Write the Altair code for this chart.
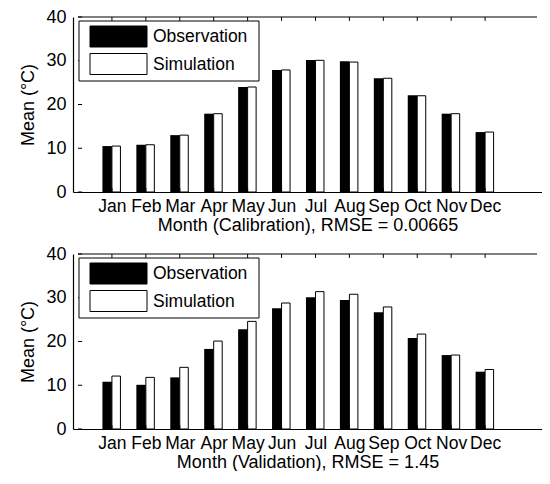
import json
import altair as alt
import pandas as pd

# ---------------- data ----------------
months = ['Jan', 'Feb', 'Mar', 'Apr', 'May', 'Jun', 'Jul', 'Aug', 'Sep', 'Oct', 'Nov', 'Dec']
month_num = list(range(1, 13))
cal_obs = [10.5, 10.8, 13.0, 17.9, 24.0, 27.9, 30.2, 29.9, 26.0, 22.1, 17.9, 13.7]
cal_sim = [10.5, 10.8, 13.0, 17.9, 24.0, 27.9, 30.1, 29.7, 26.0, 22.0, 17.9, 13.7]
val_obs = [10.8, 10.1, 11.8, 18.3, 22.8, 27.6, 30.1, 29.5, 26.7, 20.8, 16.9, 13.1]
val_sim = [12.1, 11.8, 14.1, 20.1, 24.6, 28.8, 31.4, 30.8, 27.9, 21.7, 16.9, 13.6]
series = ['Observation', 'Simulation']
series_fill = ['black', 'white']
y_ticks = [0, 10, 20, 30, 40]
x_titles = ['Month (Calibration), RMSE = 0.00665', 'Month (Validation), RMSE = 1.45']
y_title = 'Mean (°C)'

# ---------------- style ----------------
FONT = 'Liberation Sans'
FS = 18
TFS = 17.5
W, H = 469, 175
XMAX = 13.53
YMAX = 40

label_expr = json.dumps(months) + '[datum.value - 1]'


def panel(obs, sim, xtitle):
    df = pd.DataFrame({'m': month_num, 'month': months, 'obs': obs, 'sim': sim})
    xs = alt.Scale(domain=[0, XMAX], nice=False, zero=False)
    ys = alt.Scale(domain=[0, YMAX], nice=False)
    x_axis = alt.Axis(values=month_num, labelExpr=label_expr, title=xtitle, ticks=False,
                      grid=False, domainColor='black', domainWidth=1.2,
                      labelFont=FONT, labelFontSize=TFS, labelColor='black', labelPadding=5,
                      labelFlush=False, labelOverlap=False,
                      titleFont=FONT, titleFontSize=FS, titleFontWeight='normal',
                      titleColor='black', titlePadding=1.5)
    y_axis = alt.Axis(values=y_ticks, title=y_title, ticks=False, grid=False,
                      domainColor='black', domainWidth=1.2,
                      labelFont=FONT, labelFontSize=FS, labelColor='black', labelPadding=7,
                      labelFlush=False, labelOverlap=False,
                      titleFont=FONT, titleFontSize=FS, titleFontWeight='normal',
                      titleColor='black', titlePadding=8)
    base = alt.Chart(df)
    obs_bars = base.mark_bar(width=9.5, xOffset=-4.75, color='black').encode(
        x=alt.X('m:Q', scale=xs, axis=x_axis),
        y=alt.Y('obs:Q', scale=ys, axis=y_axis),
    )
    sim_bars = base.mark_bar(width=8.5, xOffset=4.25, fill='white', stroke='black',
                             strokeWidth=1).encode(
        x=alt.X('m:Q', title=xtitle),
        y=alt.Y('sim:Q', title=y_title),
    )
    # inward ticks (MATLAB style) and the top frame line
    tdf = pd.DataFrame({'m': month_num})
    top_ticks = alt.Chart(tdf).mark_rule(color='black', strokeWidth=1).encode(
        x='m:Q', y=alt.datum(YMAX), y2=alt.datum(YMAX - 0.9))
    bot_ticks = alt.Chart(tdf).mark_rule(color='black', strokeWidth=1).encode(
        x='m:Q', y=alt.datum(0), y2=alt.datum(0.9))
    ydf = pd.DataFrame({'v': y_ticks})
    left_ticks = alt.Chart(ydf).mark_rule(color='black', strokeWidth=1).encode(
        y='v:Q', x=alt.datum(0), x2=alt.datum(0.12))
    top_line = alt.Chart(pd.DataFrame({'k': [0]})).mark_rule(
        color='black', strokeWidth=1.2).encode(
        x=alt.datum(0), x2=alt.datum(XMAX), y=alt.datum(YMAX))

    # legend (drawn inside the axes, like the original)
    box = alt.Chart(pd.DataFrame({'k': [0]})).mark_rect(
        fill='white', stroke='black', strokeWidth=1).encode(
        x=alt.value(6), x2=alt.value(186), y=alt.value(4), y2=alt.value(64))
    leg = [box]
    for i, (name, fill) in enumerate(zip(series, series_fill)):
        ldf = pd.DataFrame({'label': [name]})
        leg.append(alt.Chart(ldf).mark_rect(fill=fill, stroke='black', strokeWidth=1).encode(
            x=alt.value(17), x2=alt.value(74),
            y=alt.value(9 + 27.5 * i), y2=alt.value(30 + 27.5 * i)))
        leg.append(alt.Chart(ldf).mark_text(align='left', baseline='middle', font=FONT,
                                            fontSize=TFS, color='black').encode(
            x=alt.value(80), y=alt.value(20 + 27.5 * i), text='label:N'))

    return alt.layer(obs_bars, sim_bars, top_ticks, bot_ticks, left_ticks, top_line,
                     *leg).properties(width=W, height=H)


top = panel(cal_obs, cal_sim, x_titles[0])
bottom = panel(val_obs, val_sim, x_titles[1])

chart = alt.vconcat(top, bottom, spacing=62, bounds='flush').properties(
    padding={'left': 11, 'top': 0, 'right': 0, 'bottom': 0},
    background='white',
).configure_view(stroke=None)

chart.save("out.html", embed_options={"renderer": "svg", "actions": False})
